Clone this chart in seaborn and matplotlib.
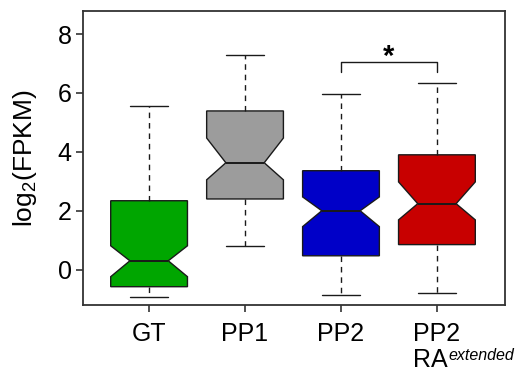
import matplotlib
matplotlib.use("Agg")
import matplotlib.pyplot as plt
import seaborn as sns

# summary statistics (log2 FPKM)
groups = ["GT", "PP1", "PP2", "PP2"]
whislo = [-0.92, 0.81, -0.85, -0.78]
q1 = [-0.58, 2.40, 0.47, 0.85]
med = [0.30, 3.63, 2.00, 2.24]
q3 = [2.34, 5.39, 3.36, 3.90]
whishi = [5.55, 7.30, 5.97, 6.34]
cilo = [-0.24, 3.05, 1.46, 1.69]
cihi = [0.81, 4.47, 2.47, 2.98]
colors = ["#00a600", "#9c9c9c", "#0000c8", "#c80000"]

sns.set_style("white")
plt.rcParams['font.family'] = ['Liberation Sans', 'DejaVu Sans']
plt.rcParams['mathtext.fontset'] = 'custom'
plt.rcParams['mathtext.rm'] = 'Liberation Sans'
plt.rcParams['mathtext.it'] = 'Liberation Sans:italic'
plt.rcParams['text.color'] = 'black'
plt.rcParams['axes.labelcolor'] = 'black'

fig = plt.figure(figsize=(5.18, 3.71), dpi=100)
ax = fig.add_axes([0.160, 0.178, 0.815, 0.792])

stats = []
for i, g in enumerate(groups):
    stats.append(dict(label=g, whislo=whislo[i], q1=q1[i], med=med[i], q3=q3[i],
                      whishi=whishi[i], cilo=cilo[i], cihi=cihi[i], fliers=[]))

dark = '#1a1a1a'
bp = ax.bxp(stats, positions=range(len(groups)), widths=0.8, capwidths=0.4,
            shownotches=True, patch_artist=True, showfliers=False,
            boxprops=dict(edgecolor=dark, linewidth=1),
            medianprops=dict(color=dark, linewidth=1.4),
            whiskerprops=dict(color=dark, linewidth=1, linestyle=(0, (4, 3.5))),
            capprops=dict(color=dark, linewidth=1))
for patch, c in zip(bp['boxes'], colors):
    patch.set_facecolor(c)

ax.set_xlim(-0.69, 3.71)
ax.set_ylim(-1.2, 8.78)
ax.set_yticks([0, 2, 4, 6, 8])
ax.set_xticks(range(len(groups)))
ax.set_xticklabels(groups)
ax.tick_params(axis='both', labelsize=18, length=5, width=1.2, color='#333333',
               labelcolor='black', direction='out', left=True, bottom=True)
ax.tick_params(axis='x', pad=7)
ax.tick_params(axis='y', pad=3)
for s in ax.spines.values():
    s.set_linewidth(1.3)
    s.set_color('#333333')

ax.set_ylabel("log$_2$(FPKM)", fontsize=19)
ax.yaxis.set_label_coords(-0.104, 0.5)

# second line of the last category label: "RA" with italic superscript
ax.annotate("RA", xy=(3, 0), xycoords=('data', 'axes fraction'),
            xytext=(-17.3, -44.6), textcoords='offset points',
            ha='left', va='baseline', fontsize=18)
ax.annotate("extended", xy=(3, 0), xycoords=('data', 'axes fraction'),
            xytext=(8.0, -39.5), textcoords='offset points',
            ha='left', va='baseline', fontsize=11.5, style='italic')

# significance bracket
ax.plot([2, 2, 3, 3], [6.7, 7.05, 7.05, 6.7], color=dark, lw=1)
ax.text(2.5, 6.95, "*", ha='center', va='baseline', fontsize=21, fontweight='bold')

fig.savefig("out.png", dpi=100)
